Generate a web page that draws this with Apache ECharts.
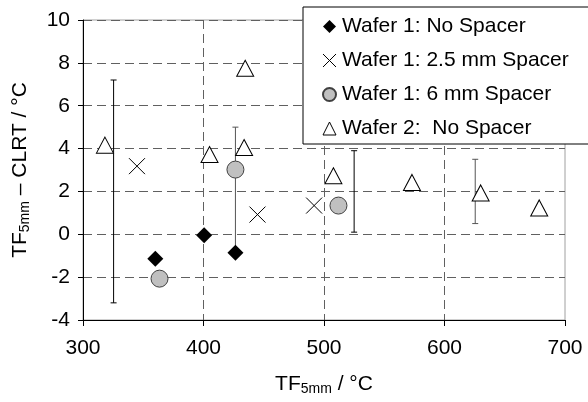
<!DOCTYPE html>
<html>
<head>
<meta charset="utf-8">
<script src="https://cdn.jsdelivr.net/npm/echarts@6/dist/echarts.min.js"></script>
<style>
  html, body { margin: 0; padding: 0; background: #fff; }
  #chart { width: 588px; height: 402px; }
</style>
</head>
<body>
<div id="chart"></div>
<script>
// series data: [TF5mm, TF5mm - CLRT]
const wafer1NoSpacer = [[360, -1.14], [400.5, -0.05], [426.5, -0.86]];
const wafer1Spacer25 = [[344.8, 3.18], [444.8, 0.92], [491.8, 1.34]];
const wafer1Spacer6 = [[363.5, -2.07], [426.5, 3.02], [512, 1.34]];
const wafer2NoSpacer = [[318.2, 4.16], [405, 3.72], [434.6, 7.75], [433.7, 4.05],
  [507.8, 2.73], [573, 2.42], [630, 1.93], [678.6, 1.23]];

// error bars: [x, low, high]
const errBarsBlack = [[325.4, -3.2, 7.2], [525, 0.1, 3.9]];
const errBarsGray = [[426.5, -0.86, 5.0], [625.5, 0.5, 3.5]];

const seriesNames = ['Wafer 1: No Spacer', 'Wafer 1: 2.5 mm Spacer', 'Wafer 1: 6 mm Spacer', 'Wafer 2:  No Spacer'];

const FONT = 'Liberation Sans, Arial, sans-serif';
const chart = echarts.init(document.getElementById('chart'), null, { renderer: 'canvas' });

function errRender(color) {
  return function (params, api) {
    const x = api.value(0);
    const lo = api.coord([x, api.value(1)]);
    const hi = api.coord([x, api.value(2)]);
    const cap = 3;
    const style = { stroke: color, lineWidth: 1 };
    return {
      type: 'group',
      children: [
        { type: 'line', shape: { x1: lo[0], y1: lo[1], x2: hi[0], y2: hi[1] }, style: style },
        { type: 'line', shape: { x1: hi[0] - cap, y1: hi[1], x2: hi[0] + cap, y2: hi[1] }, style: style },
        { type: 'line', shape: { x1: lo[0] - cap, y1: lo[1], x2: lo[0] + cap, y2: lo[1] }, style: style }
      ]
    };
  };
}

const subRich = {
  m: { fontSize: 21, fontFamily: FONT, color: '#000', lineHeight: 24 },
  s: { fontSize: 14, fontFamily: FONT, color: '#000', lineHeight: 10, verticalAlign: 'bottom' }
};

const option = {
  animation: false,
  backgroundColor: '#fff',
  grid: {
    left: 83, right: 23, top: 20, bottom: 82,
    show: true, borderColor: '#a0a0a0', borderWidth: 1
  },
  xAxis: {
    type: 'value', min: 300, max: 700, interval: 100,
    name: '{m|TF}{s|5mm}{m| / °C}',
    nameLocation: 'middle', nameGap: 52,
    nameTextStyle: { rich: subRich },
    axisLine: { show: true, onZero: false, lineStyle: { color: '#000', width: 1 } },
    axisTick: { show: true, inside: false, length: 6, lineStyle: { color: '#000' } },
    axisLabel: { fontSize: 21, fontFamily: FONT, color: '#000', margin: 18 },
    splitLine: { show: true, showMinLine: false, showMaxLine: false, lineStyle: { color: '#606060', type: [9, 5], width: 1 } }
  },
  yAxis: {
    type: 'value', min: -4, max: 10, interval: 2,
    name: '{m|TF}{s|5mm}{m| – CLRT / °C}',
    nameLocation: 'middle', nameGap: 51, nameRotate: 90,
    nameTextStyle: { rich: subRich },
    axisLine: { show: true, onZero: false, lineStyle: { color: '#000', width: 1 } },
    axisTick: { show: true, inside: false, length: 5, lineStyle: { color: '#000' } },
    axisLabel: { fontSize: 21, fontFamily: FONT, color: '#000', margin: 13 },
    splitLine: { show: true, showMinLine: false, showMaxLine: true, lineStyle: { color: '#606060', type: [9, 5], width: 1 } }
  },
  legend: {
    orient: 'vertical',
    left: 303, top: 7,
    data: [
      { name: seriesNames[0] },
      { name: seriesNames[1], itemStyle: { borderWidth: 1 } },
      { name: seriesNames[2] },
      { name: seriesNames[3], itemStyle: { borderWidth: 1 } }
    ],
    backgroundColor: '#fff',
    borderColor: '#000', borderWidth: 1,
    padding: [9, 120, 5, 19],
    itemGap: 13,
    itemWidth: 13, itemHeight: 13,
    textStyle: { fontSize: 21, fontFamily: FONT, color: '#000', padding: [0, 0, 0, 1] }
  },
  series: [
    {
      type: 'custom', name: 'errBlack', data: errBarsBlack, z: 1,
      renderItem: errRender('#000'), silent: true
    },
    {
      type: 'custom', name: 'errGray', data: errBarsGray, z: 1,
      renderItem: errRender('#555'), silent: true
    },
    {
      type: 'scatter', name: seriesNames[0], data: wafer1NoSpacer, z: 3,
      symbol: 'diamond', symbolSize: 16,
      itemStyle: { color: '#000', opacity: 1 }
    },
    {
      type: 'scatter', name: seriesNames[1], data: wafer1Spacer25, z: 3,
      symbol: 'path://M0,0L10,10M10,0L0,10', symbolSize: 16,
      itemStyle: { color: 'rgba(0,0,0,0)', borderColor: '#000', borderWidth: 1, opacity: 1 }
    },
    {
      type: 'scatter', name: seriesNames[2], data: wafer1Spacer6, z: 3,
      symbol: 'circle', symbolSize: 17,
      itemStyle: { color: '#c0c0c0', borderColor: '#404040', borderWidth: 1, opacity: 1 }
    },
    {
      type: 'scatter', name: seriesNames[3], data: wafer2NoSpacer, z: 3,
      symbol: 'triangle', symbolSize: [17, 16],
      itemStyle: { color: '#fff', borderColor: '#000', borderWidth: 1, opacity: 1 }
    }
  ]
};

chart.setOption(option);
</script>
</body>
</html>
